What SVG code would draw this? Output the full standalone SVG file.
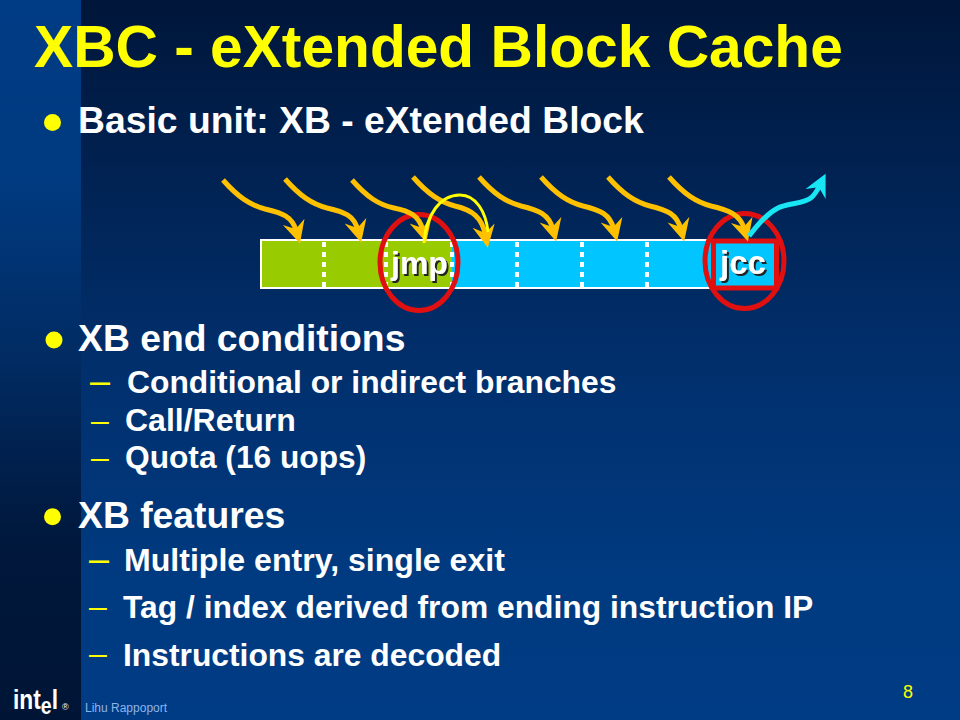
<svg xmlns="http://www.w3.org/2000/svg" width="960" height="720" viewBox="0 0 960 720">
<style>
text{font-family:"Liberation Sans",Arial,sans-serif;font-weight:bold;fill:#fff}
.h{font-size:37.3px}.s{font-size:31.8px}
.dot{fill:#ffff00}
.en{font-weight:normal;fill:#ffff00;font-size:32px}
.dash{stroke:#fff;stroke-width:4;stroke-dasharray:5 5;fill:none}
.gold{fill:none;stroke:#ffc000;stroke-width:5}
.oval{fill:none;stroke:#e01010;stroke-width:5}
</style>
<defs>
<linearGradient id="bg" x1="0" y1="0" x2="0" y2="1"><stop offset="0" stop-color="#00163a"/><stop offset="0.5" stop-color="#012f6c"/><stop offset="0.8" stop-color="#003a80"/><stop offset="1" stop-color="#003c85"/></linearGradient>
<linearGradient id="side" x1="0" y1="0" x2="0" y2="1"><stop offset="0" stop-color="#003c85"/><stop offset="0.25" stop-color="#003a80"/><stop offset="0.5" stop-color="#012b62"/><stop offset="0.75" stop-color="#00183c"/><stop offset="1" stop-color="#001536"/></linearGradient>
<marker id="ag" viewBox="0 0 20 20" refX="8" refY="10" markerWidth="25" markerHeight="25" markerUnits="userSpaceOnUse" orient="auto"><path d="M0 1L18 10L0 19L6 10Z" fill="#ffc000"/></marker>
<marker id="ac" viewBox="0 0 20 20" refX="8" refY="10" markerWidth="25" markerHeight="25" markerUnits="userSpaceOnUse" orient="auto"><path d="M0 1L18 10L0 19L6 10Z" fill="#19e6f5"/></marker>
<filter id="sh" x="-10%" y="-10%" width="130%" height="130%"><feDropShadow dx="2" dy="2" stdDeviation="0.5" flood-color="#222"/></filter>
</defs>
<rect width="960" height="720" fill="url(#bg)"/>
<rect width="81" height="720" fill="url(#side)"/>
<text id="title" x="34" y="66.5" font-size="58.7" style="fill:#ffff00">XBC - eXtended Block Cache</text>
<g id="bullets">
<circle class="dot" cx="52.5" cy="122.5" r="8.5"/><text class="h" x="78" y="133">Basic unit: XB - eXtended Block</text>
<circle class="dot" cx="54" cy="340" r="8.5"/><text class="h" x="78" y="351">XB end conditions</text>
<circle class="dot" cx="52.5" cy="516.7" r="8.5"/><text class="h" x="78" y="528">XB features</text>
<text class="en" x="90" y="393" style="font-size:36px">–</text><text class="en" x="91" y="431">–</text><text class="en" x="91" y="468">–</text><text class="en" x="89" y="571" style="font-size:36px">–</text><text class="en" x="89" y="617">–</text><text class="en" x="89" y="664">–</text>
<text class="s" x="127" y="393">Conditional or indirect branches</text>
<text class="s" x="125" y="431" style="font-size:32px">Call/Return</text>
<text class="s" x="125" y="468" style="font-size:31.7px">Quota (16 uops)</text>
<text class="s" x="124" y="571" style="font-size:32.1px">Multiple entry, single exit</text>
<text class="s" x="123" y="618">Tag / index derived from ending instruction IP</text>
<text class="s" x="123" y="666">Instructions are decoded</text>
</g>
<g id="block">
<rect x="261" y="240" width="515" height="48" fill="#00c5ff" stroke="#fff" stroke-width="2"/>
<rect x="262" y="241" width="190" height="46" fill="#99cc00"/>
</g>
<g id="dividers">
<path class="dash" d="M324 242V287M386 242V287M452 242V287M517 242V287M582 242V287M647 242V287"/>
</g>
<g id="jcc-box"><rect x="713.5" y="241" width="63" height="47" fill="#00c5ff" stroke="#e01010" stroke-width="5"/></g>
<g id="labels" filter="url(#sh)">
<text x="391" y="274" font-size="32">jmp</text>
<text x="720" y="274" font-size="33">jcc</text>
</g>
<g id="ovals">
<ellipse class="oval" cx="419" cy="262.5" rx="39" ry="48"/>
<ellipse class="oval" cx="744.5" cy="261" rx="39.5" ry="47.5"/>
</g>
<g id="connectors">
<path class="gold" marker-end="url(#ag)" d="M223 180c15 17 27 25 42 29c17 4 27 7 31.500 22.400"/>
<path class="gold" marker-end="url(#ag)" d="M285 179c15 17 27 25 42 29c17 4 27 7 31 22.400"/>
<path class="gold" marker-end="url(#ag)" d="M352 180c15 17 27 25 42 28c15 3 25 7 29 22.400"/>
<path class="gold" marker-end="url(#ag)" d="M413 177c15 17 27 25 42 29c17 4 27 11 30.500 29.400"/>
<path class="gold" marker-end="url(#ag)" d="M479 177c15 17 27 25 42 29c17 4 28 8 32 23.400"/>
<path class="gold" marker-end="url(#ag)" d="M541 177c15 17 27 25 42 29c17 4 27 8 31 23.400"/>
<path class="gold" marker-end="url(#ag)" d="M608 177c15 17 27 25 42 29c17 4 27 8 31 23.400"/>
<path class="gold" marker-end="url(#ag)" d="M669 177c15 17 27 25 42 29c17 4 29 8 33.500 23.400"/>
<path fill="none" stroke="#ffff00" stroke-width="3" d="M424 243C426 215 440 195 460 195C476 195 486 212 488 232"/>
<path fill="none" stroke="#19e6f5" stroke-width="5" marker-end="url(#ac)" d="M749 236C760 222 768 213 778 208C788 203 805 204 812 197C816 193 818 189 820 185"/>
</g>
<g id="footer">
<text x="13" y="709" font-size="28" textLength="45" lengthAdjust="spacingAndGlyphs">int<tspan dy="5" font-size="24">e</tspan><tspan dy="-5">l</tspan></text>
<text x="62" y="710" font-size="9" style="font-weight:normal">®</text>
<text x="85" y="712" font-size="12" style="font-weight:normal;fill:#8fb4e8">Lihu Rappoport</text>
<text x="903" y="698" font-size="18" style="font-weight:normal;fill:#ffff00">8</text>
</g>
</svg>
